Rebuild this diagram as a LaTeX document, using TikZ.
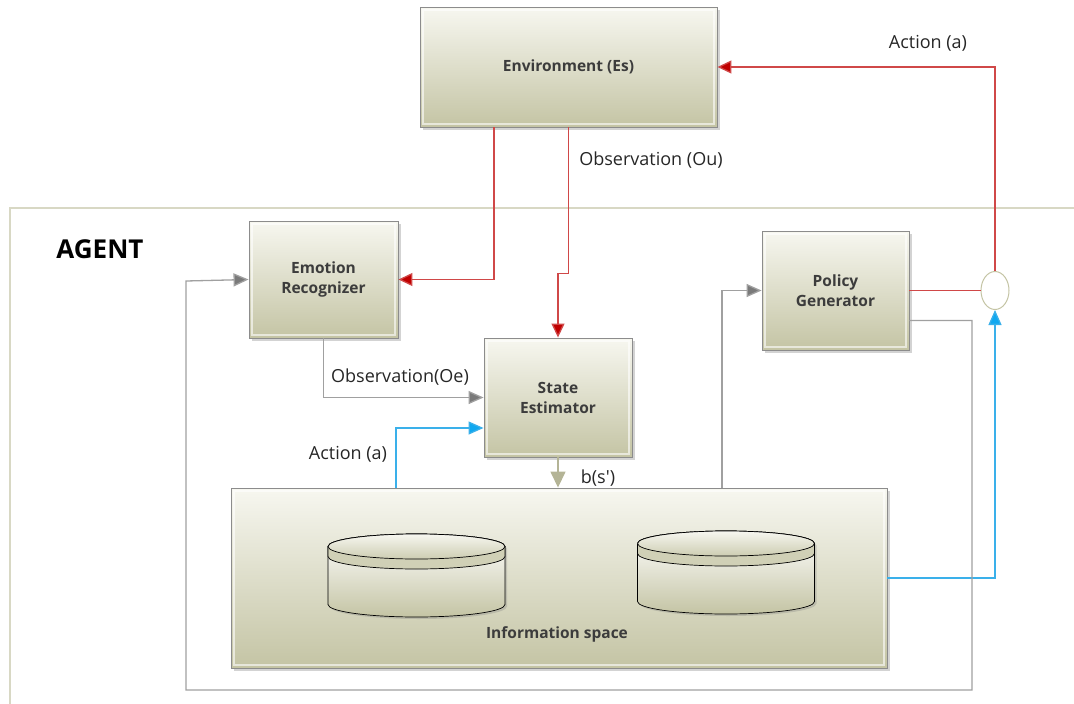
\documentclass[tikz,border=0pt]{standalone}
\usepackage{fontspec}
\setmainfont{Open Sans}
\usetikzlibrary{shapes.geometric,shadows,arrows.meta}

\definecolor{boxtop}{HTML}{F7F7F0}
\definecolor{boxbot}{HTML}{C4C4A4}
\definecolor{boxedge}{HTML}{8C8C8C}
\definecolor{boxtext}{HTML}{3C3C3C}
\definecolor{redln}{HTML}{D04848}
\definecolor{redtip}{HTML}{C00000}
\definecolor{grayln}{HTML}{A0A0A0}
\definecolor{graytip}{HTML}{7A7A7A}
\definecolor{blueln}{HTML}{3AB0EA}
\definecolor{bluetip}{HTML}{10A8F0}
\definecolor{olivetip}{HTML}{B4B496}
\definecolor{agentln}{HTML}{D8D8C4}
\definecolor{labeltxt}{HTML}{262626}

\tikzset{
  stagebox/.style={draw=boxedge, line width=0.9pt, top color=boxtop, bottom color=boxbot,
    drop shadow={shadow xshift=2.5pt, shadow yshift=-2.5pt, opacity=0.35},
    font=\fontsize{15.5}{20}\selectfont\bfseries, text=boxtext, align=center,
    path picture={\draw[white, opacity=0.6, line width=1.5pt]
      ([shift={(3pt,3pt)}]path picture bounding box.south west) rectangle
      ([shift={(-3pt,-3pt)}]path picture bounding box.north east);}},
  lbl/.style={font=\fontsize{18}{21}\selectfont, text=labeltxt},
  redline/.style={draw=redln, line width=1.3pt, -{Triangle[length=14pt,width=13pt,fill=redtip]}},
  redplain/.style={draw=redln, line width=1.3pt},
  grayline/.style={draw=grayln, line width=1.3pt, -{Triangle[length=15pt,width=13pt,fill=graytip]}},
  blueline/.style={draw=blueln, line width=1.3pt, -{Triangle[length=15pt,width=13pt,fill=bluetip]}},
  oliveline/.style={draw=olivetip, line width=1.5pt, -{Triangle[length=16pt,width=15pt,fill=olivetip]}},
  dbcyl/.pic={
    \path[draw=black, line width=0.7pt, top color=white, bottom color=boxbot,
      drop shadow={shadow xshift=2pt, shadow yshift=-2pt, opacity=0.3}]
      (-88.5,0) -- (-88.5,58) arc[start angle=180, end angle=360, x radius=88.5pt, y radius=12.5pt]
      -- (88.5,0) arc[start angle=0, end angle=180, x radius=88.5pt, y radius=12.5pt] -- cycle;
    \path[draw=black, line width=0.7pt, fill=boxbot!80]
      (-88.5,0) -- (-88.5,10) arc[start angle=180, end angle=360, x radius=88.5pt, y radius=12.5pt]
      -- (88.5,0) arc[start angle=0, end angle=180, x radius=88.5pt, y radius=12.5pt] -- cycle;
    \path[draw=black, line width=0.7pt, top color=boxtop, bottom color=boxbot!85]
      (0,0) ellipse[x radius=88.5pt, y radius=12.5pt];
  }
}

\begin{document}
\begin{tikzpicture}[x=1pt, y=-1pt]
  \useasboundingbox (0,0) rectangle (1074,704);

  % agent frame
  \draw[agentln, line width=1.5pt] (1074,208) -- (10,208) -- (10,704);
  \node[font=\fontsize{26}{30}\selectfont\bfseries, text=black] (agent) at (100,249) {AGENT};

  % blocks
  \node[stagebox, minimum width=297pt, minimum height=120pt] (env) at (568.5,67) {Environment (Es)};
  \node[stagebox, minimum width=149pt, minimum height=117pt] (er) at (323.5,279.5) {Emotion\\Recognizer};
  \node[stagebox, minimum width=148pt, minimum height=119pt] (se) at (558,397.5) {State\\Estimator};
  \node[stagebox, minimum width=147pt, minimum height=119pt] (pg) at (835.5,290.5) {Policy\\Generator};
  \node[stagebox, minimum width=656pt, minimum height=180pt] (info) at (559,578) {};
  \node[font=\fontsize{15.5}{20}\selectfont\bfseries, text=boxtext] (infolbl) at (557,634) {Information space};

  % data stores
  \pic at (416.5,546.5) {dbcyl};
  \pic at (726,543.5) {dbcyl};

  % action junction
  \node[ellipse, draw=boxbot, line width=1pt, fill=white, minimum width=28pt, minimum height=38pt, inner sep=0pt] (jn) at (995,290.5) {};

  % connectors
  \draw[redline] (jn.north) |- (env.east);
  \draw[redplain] (pg.east) -- (jn.west);
  \draw[blueline] (info.east) -| (jn.south);
  \draw[redline] ([xshift=-74.5pt]env.south) |- (er.east);
  \draw[redline] (env.south) -- ++(0,-146pt) -| (se.north);
  \draw[grayline] (er.south) |- (se.west);
  \draw[blueline] ([xshift=-163pt]info.north) |- ([yshift=-30.5pt]se.west);
  \draw[oliveline] (se.south) -- (se.south |- info.north);
  \draw[grayline] ([xshift=163pt]info.north) |- (pg.west);
  \draw[grayline] ([yshift=-30pt]pg.east) -| (972,690) -| (186,281) -- (er.west);

  % labels
  \node[lbl] (lact1) at (928,43) {Action (a)};
  \node[lbl] (lou) at (651,160) {Observation (Ou)};
  \node[lbl] (loe) at (400,377) {Observation(Oe)};
  \node[lbl] (lact2) at (348,454) {Action (a)};
  \node[lbl] (lbs) at (598,478) {b(s\textquotesingle)};
\end{tikzpicture}
\end{document}
